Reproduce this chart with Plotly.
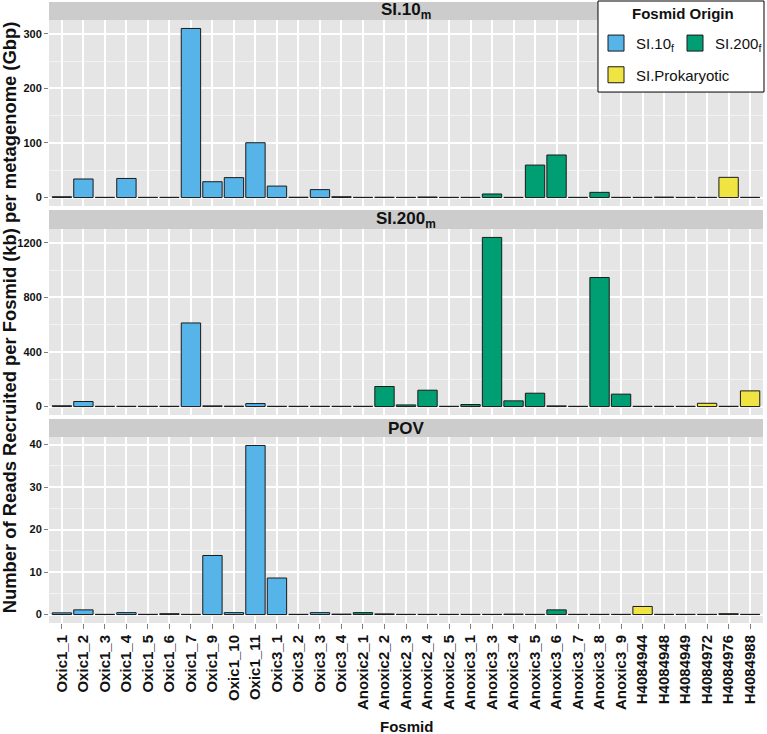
import plotly.graph_objects as go

categories = ["Oxic1_1", "Oxic1_2", "Oxic1_3", "Oxic1_4", "Oxic1_5", "Oxic1_6", "Oxic1_7",
              "Oxic1_9", "Oxic1_10", "Oxic1_11", "Oxic3_1", "Oxic3_2", "Oxic3_3", "Oxic3_4",
              "Anoxic2_1", "Anoxic2_2", "Anoxic2_3", "Anoxic2_4", "Anoxic2_5", "Anoxic3_1",
              "Anoxic3_3", "Anoxic3_4", "Anoxic3_5", "Anoxic3_6", "Anoxic3_7", "Anoxic3_8",
              "Anoxic3_9", "H4084944", "H4084948", "H4084949", "H4084972", "H4084976", "H4084988"]

origin = ["SI.10f"] * 14 + ["SI.200f"] * 13 + ["SI.Prokaryotic"] * 6

si10m = [1.5, 34, 0.4, 35, 0.4, 0.4, 310, 29, 36.5, 100.5, 21, 0.6, 14.5, 1.5,
         0.4, 0.6, 0.4, 1.0, 0.4, 0.4, 6.5, 0.4, 59.5, 78, 0.4, 9.5, 0.4,
         0.4, 0.8, 0.4, 0.4, 37, 0.4]

si200m = [6, 37, 2, 2, 2, 2, 613, 5, 3, 22, 2, 2, 2, 2,
          2, 147, 12, 120, 2, 15, 1240, 42, 98, 5, 2, 946, 91,
          2, 2, 2, 24, 2, 115]

pov = [0.4, 1.1, 0.05, 0.45, 0.05, 0.2, 0.05, 13.9, 0.45, 39.8, 8.6, 0.05, 0.45, 0.1,
       0.45, 0.15, 0.05, 0.05, 0.05, 0.05, 0.05, 0.1, 0.05, 1.1, 0.05, 0.05, 0.05,
       1.9, 0.05, 0.05, 0.05, 0.2, 0.05]

panel_names = ["<b>SI.10<sub>m</sub></b>", "<b>SI.200<sub>m</sub></b>", "<b>POV</b>"]
panel_values = [si10m, si200m, pov]
panel_dticks = [100, 400, 10]

origin_keys = ["SI.10f", "SI.200f", "SI.Prokaryotic"]
origin_labels = ["SI.10<sub>f</sub>", "SI.200<sub>f</sub>", "SI.Prokaryotic"]
origin_colors = ["#56B4E9", "#009E73", "#F0E442"]
origin_legends = ["legend", "legend2", "legend3"]

FONT = "Liberation Sans, Arial, Helvetica, sans-serif"

fig = go.Figure()

# layout geometry (paper fractions)
panel_domains = [[0.6715, 0.971], [0.3349, 0.6345], [0.0, 0.2995]]
strip_domains = [[0.971, 1.0], [0.6345, 0.665], [0.2995, 0.3285]]

for p, vals in enumerate(panel_values):
    ax = "" if p == 0 else str(p + 1)
    for k, key in enumerate(origin_keys):
        xs = [c for c, o in zip(categories, origin) if o == key]
        ys = [v for v, o in zip(vals, origin) if o == key]
        fig.add_trace(go.Bar(
            x=xs, y=ys, name=origin_labels[k],
            marker=dict(color=origin_colors[k], line=dict(color="#1a1a1a", width=1)),
            width=0.9,
            xaxis="x" + ax, yaxis="y" + ax,
            legendgroup=key,
            showlegend=False,
            hoverinfo="x+y",
        ))

# legend keys (larger square swatches like the reference)
for k, key in enumerate(origin_keys):
    fig.add_trace(go.Scatter(
        x=[None], y=[None], mode="markers", name=origin_labels[k],
        marker=dict(symbol="square", size=16, color=origin_colors[k],
                    line=dict(color="#1a1a1a", width=1)),
        legend=origin_legends[k], legendgroup=key, showlegend=True,
        hoverinfo="skip",
    ))

layout = dict(
    width=767, height=734,
    margin=dict(l=49, r=4, t=2, b=111, autoexpand=False),
    paper_bgcolor="white",
    plot_bgcolor="#E5E5E5",
    barmode="overlay",
    font=dict(family=FONT, color="#111111"),
    showlegend=True,
)

for p in range(3):
    ax = "" if p == 0 else str(p + 1)
    vmax = max(panel_values[p])
    bottom = (p == 2)
    layout["xaxis" + ax] = dict(
        type="category", categoryorder="array", categoryarray=categories,
        range=[-0.6, len(categories) - 0.4],
        anchor="y" + ax,
        domain=[0, 1],
        showgrid=True, gridcolor="white", gridwidth=1.6,
        showticklabels=bottom,
        ticks="outside" if bottom else "",
        ticklen=5, tickcolor="#7f7f7f", tickwidth=1,
        tickangle=-90,
        tickfont=dict(family=FONT, size=15, color="#111111", weight="bold"),
        zeroline=False, showline=False,
        fixedrange=True,
    )
    layout["yaxis" + ax] = dict(
        anchor="x" + ax,
        domain=panel_domains[p],
        range=[-0.05 * vmax, 1.05 * vmax],
        dtick=panel_dticks[p], tick0=0,
        showgrid=True, gridcolor="white", gridwidth=1.6,
        minor=dict(dtick=panel_dticks[p] / 2, showgrid=True, gridcolor="#F2F2F2", gridwidth=0.8),
        ticks="outside", ticklen=4, tickcolor="#7f7f7f", tickwidth=1,
        tickfont=dict(family=FONT, size=11, color="#111111", weight="bold"),
        zeroline=False, showline=False,
        fixedrange=True,
    )

shapes = []
annotations = []
for p in range(3):
    y0, y1 = strip_domains[p]
    shapes.append(dict(type="rect", xref="paper", yref="paper", x0=0, x1=1, y0=y0, y1=y1,
                       fillcolor="#CCCCCC", line=dict(width=0), layer="below"))
    annotations.append(dict(text=panel_names[p], xref="paper", yref="paper",
                            x=0.5, y=(y0 + y1) / 2, xanchor="center", yanchor="middle",
                            showarrow=False,
                            font=dict(family=FONT, size=17, color="#111111")))

# legend frame
shapes.append(dict(type="rect", xref="paper", yref="paper", x0=0.7689, x1=1.0014,
                   y0=0.855, y1=1.0016, fillcolor="white",
                   line=dict(color="black", width=1), layer="above"))

annotations.append(dict(text="<b>Fosmid Origin</b>", xref="paper", yref="paper",
                        x=0.888, y=0.9807, xanchor="center", yanchor="middle", showarrow=False,
                        font=dict(family=FONT, size=15, color="#111111")))
annotations.append(dict(text="<b>Number of Reads Recruited per Fosmid (kb) per metagenome (Gbp)</b>",
                        xref="paper", yref="paper", x=-0.0553, y=0.4915,
                        xanchor="center", yanchor="middle", textangle=-90, showarrow=False,
                        font=dict(family=FONT, size=18.4, color="#111111")))
annotations.append(dict(text="<b>Fosmid</b>", xref="paper", yref="paper", x=0.5, y=-0.166,
                        xanchor="center", yanchor="middle", showarrow=False,
                        font=dict(family=FONT, size=15, color="#111111")))

layout["shapes"] = shapes
layout["annotations"] = annotations

legend_common = dict(
    orientation="h", xanchor="left", yanchor="top",
    font=dict(family=FONT, size=15, color="#111111"),
    bgcolor="rgba(0,0,0,0)", borderwidth=0, itemwidth=30, itemsizing="trace",
    itemclick=False, itemdoubleclick=False,
)
layout["legend"] = dict(legend_common, x=(596 - 49) / 714, y=0.96)
layout["legend2"] = dict(legend_common, x=(675 - 49) / 714, y=0.96)
layout["legend3"] = dict(legend_common, x=(596 - 49) / 714, y=0.909)

fig.update_layout(**layout)
fig.write_html("out.html", post_script="document.body.style.margin='0px';",
               config={"displayModeBar": False})
